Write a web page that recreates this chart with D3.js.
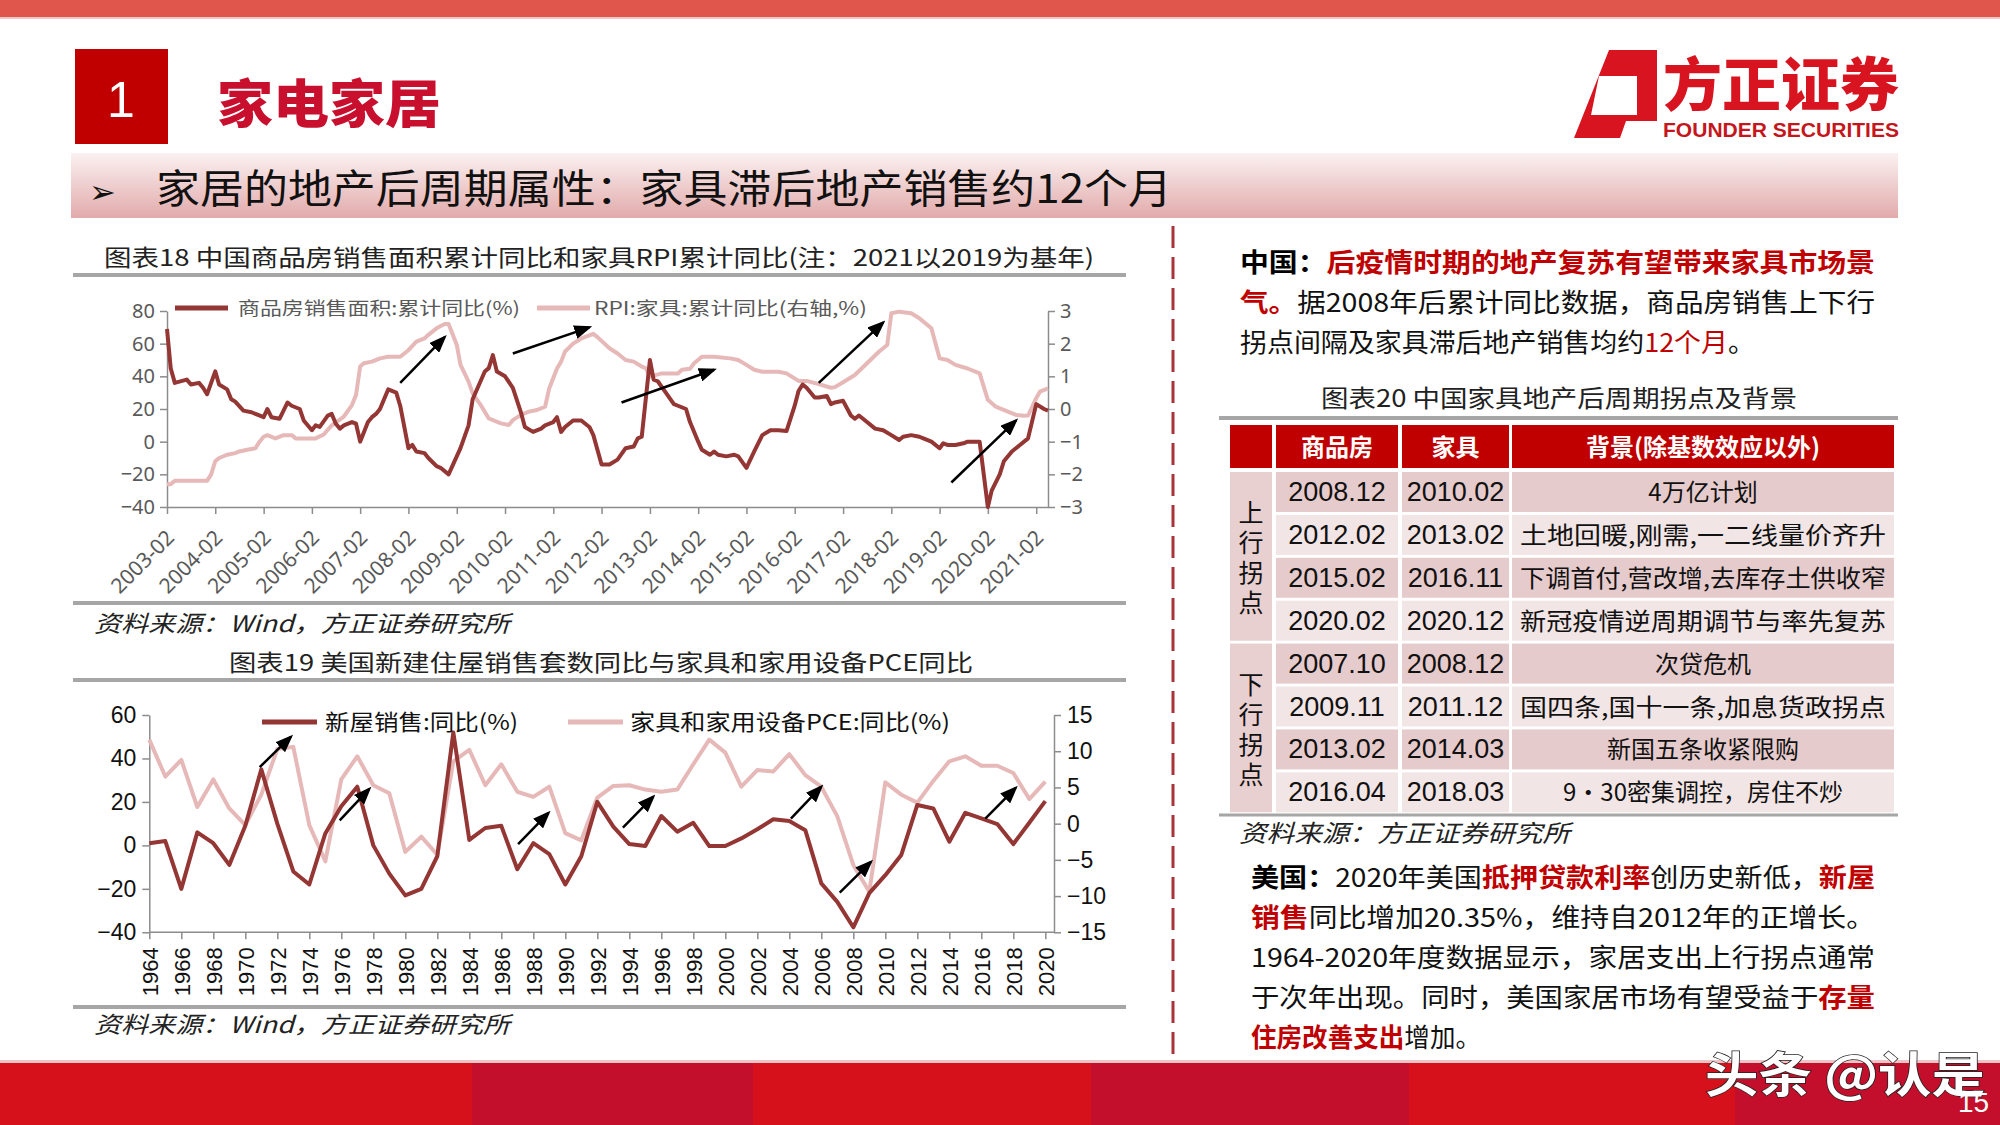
<!DOCTYPE html>
<meta charset="utf-8">
<style>
  body { margin: 0; background: #fff; }
  svg { display: block; }
  text { font-family: "Noto Sans CJK SC", "Noto Sans", sans-serif; }
  .ax1 text { fill: #595959; font-family: "Noto Sans", "Liberation Sans", sans-serif; }
  .ax1 line, .ax1 path { stroke: #8c8c8c; stroke-width: 1.5px; }
  .ax2 text { fill: #111; font-family: "Liberation Sans", Arial, sans-serif; }
  .ax2 line, .ax2 path { stroke: #8c8c8c; stroke-width: 1.5px; }
  .cell { font-family: "Liberation Sans Narrow", "Liberation Sans", sans-serif; }
</style>
<svg width="2000" height="1125"></svg>
<script src="https://d3js.org/d3.v7.min.js"></script>
<script>

    // ---- chart 18: China, monthly cumulative yoy ----
    var cnSalesDates = ["2003-02","2003-03","2003-04","2003-07","2003-08","2003-10","2003-11","2003-12",
        "2004-02","2004-03","2004-05","2004-06","2004-07","2004-09","2004-11","2004-12",
        "2005-02","2005-03","2005-04","2005-06","2005-08","2005-09","2005-11","2005-12",
        "2006-02","2006-03","2006-04","2006-06","2006-07","2006-08","2006-09","2006-10","2006-12","2007-01",
        "2007-02","2007-04","2007-05","2007-06","2007-07","2007-08","2007-09","2007-11","2007-12",
        "2008-02","2008-03","2008-04","2008-06","2008-07","2008-09","2008-10","2008-12",
        "2009-03","2009-05","2009-06","2009-09","2009-10","2009-11","2009-12",
        "2010-02","2010-04","2010-06","2010-07","2010-09","2010-11","2010-12",
        "2011-02","2011-03","2011-04","2011-05","2011-07","2011-09","2011-10","2011-11","2011-12",
        "2012-02","2012-04","2012-06","2012-08","2012-10","2012-11","2012-12",
        "2013-02","2013-03","2013-04","2013-06","2013-08","2013-09","2013-11","2013-12",
        "2014-02","2014-03","2014-05","2014-06","2014-07","2014-09","2014-11","2014-12",
        "2015-02","2015-04","2015-06","2015-08","2015-10","2015-12",
        "2016-02","2016-03","2016-04","2016-05","2016-07","2016-08","2016-10","2016-11","2016-12",
        "2017-02","2017-04","2017-05","2017-06","2017-08","2017-10","2017-12",
        "2018-02","2018-04","2018-05","2018-07","2018-09","2018-10","2018-12",
        "2019-02","2019-03","2019-04","2019-06","2019-08","2019-09","2019-11","2019-12",
        "2020-02","2020-03","2020-05","2020-06","2020-08","2020-10","2020-12",
        "2021-02","2021-04","2021-05"];
    var cnSalesArea = [69,45,36,38,35,36,33,29,
        43,35,32,26,24.5,19,18,17,
        15,20,15,14,24,22,20,13,
        7,10,9,16,17,11,8,10,12,11,
        0,12,15,17,20,26,32,30,22,
        -4,-2,-6,-7,-10,-15,-16,-20,
        -4,10,26,43,45,53,43,
        40,33,18,9,6,8,10,
        12,15,6,9,13,13,11,9,4,
        -14,-14,-11,-4,-3,2,3,
        50,38,37,30,23,22,20,12,
        0,-5,-8,-6,-8,-9,-8,-9,
        -16,-6,4,7,7,6.5,
        22,31,35,33,27,27,28,23,24,
        25,16,14,16,12,8,7,
        4,1,3,4,3,2,0,
        -4,-1,-2,-2,-1,0,0,0,
        -40,-30,-20,-12,-6,-2,2,
        23,20,19];

    var rpiDates = ["2003-02","2003-03","2003-04","2003-12","2004-01","2004-02","2004-03","2004-05","2004-07","2004-08","2004-10","2004-12",
        "2005-01","2005-02","2005-03","2005-05","2005-07","2005-09","2005-10","2006-03","2006-05","2006-07","2006-10","2006-12",
        "2007-01","2007-02","2007-03","2007-05","2007-07","2007-09","2007-12",
        "2008-02","2008-04","2008-06","2008-07","2008-09","2008-11","2008-12",
        "2009-02","2009-03","2009-05","2009-06","2009-08","2009-10","2009-11",
        "2010-01","2010-03","2010-04","2010-06","2010-08","2010-10","2010-12",
        "2011-01","2011-03","2011-04","2011-05","2011-07","2011-09","2011-12",
        "2012-01","2012-04","2012-06","2012-08","2012-10","2012-12",
        "2013-01","2013-02","2013-03","2013-05","2013-09","2013-10","2013-12",
        "2014-01","2014-03","2014-06","2014-10","2014-12",
        "2015-02","2015-04","2015-06","2015-10","2015-12",
        "2016-03","2016-05","2016-08","2016-11","2016-12",
        "2017-02","2017-05","2017-08","2017-11",
        "2018-01","2018-02","2018-04","2018-07","2018-09","2018-12",
        "2019-02","2019-04","2019-06","2019-09","2019-12",
        "2020-02","2020-04","2020-07","2020-09","2020-11","2020-12",
        "2021-02","2021-03","2021-05"];
    var rpiFurniture = [-2.3,-2.3,-2.2,-2.2,-2.0,-1.6,-1.5,-1.4,-1.35,-1.3,-1.25,-1.2,
        -1.0,-0.85,-0.8,-0.9,-0.8,-0.8,-0.9,-0.9,-0.78,-0.5,-0.23,0.12,
        0.43,1.3,1.4,1.45,1.55,1.6,1.6,
        1.8,2.06,2.16,2.27,2.47,2.6,2.6,
        1.96,1.35,0.84,0.48,0.12,-0.29,-0.34,
        -0.44,-0.49,-0.34,-0.18,-0.08,-0.03,0.07,
        0.63,1.24,1.45,1.76,2.0,2.16,2.3,
        2.2,1.86,1.7,1.5,1.45,1.3,
        1.25,0.99,1.02,1.09,1.09,1.2,1.23,
        1.4,1.6,1.6,1.55,1.5,
        1.35,1.2,1.14,1.14,1.09,
        0.86,0.86,0.76,0.65,0.67,
        0.82,1.04,1.4,1.76,
        1.96,2.93,2.98,2.93,2.78,2.47,
        1.55,1.5,1.35,1.24,1.09,
        0.28,0.07,-0.08,-0.18,-0.21,-0.2,
        0.33,0.53,0.63];

    var cnMonthTicks = ["2003-02","2004-02","2005-02","2006-02","2007-02","2008-02","2009-02","2010-02","2011-02",
        "2012-02","2013-02","2014-02","2015-02","2016-02","2017-02","2018-02","2019-02","2020-02","2021-02"];
    var cnLeftTicks = [-40, -20, 0, 20, 40, 60, 80];
    var cnRightTicks = [-3, -2, -1, 0, 1, 2, 3];
    // arrow annotations: [start month, left-axis value, end month, left-axis value]
    var cnArrows = [["2007-12", 36, "2008-11", 64], ["2010-04", 54, "2011-11", 70], ["2012-07", 24, "2014-06", 44],
        ["2016-08", 36, "2017-12", 73], ["2019-05", -25, "2020-09", 13]];

    // ---- chart 19: US, yearly yoy ----
    var usYears = [1964,1965,1966,1967,1968,1969,1970,1971,1972,1973,1974,1975,1976,1977,1978,1979,1980,1981,1982,1983,
        1984,1985,1986,1987,1988,1989,1990,1991,1992,1993,1994,1995,1996,1997,1998,1999,2000,2001,2002,2003,
        2004,2005,2006,2007,2008,2009,2010,2011,2012,2013,2014,2015,2016,2017,2018,2019,2020];
    var usNewHomeSales = [1,2,-20,6,1,-9,9,35,10,-12,-18,5.5,18,27,0,-13,-23,-20,-5,52,
        2.5,8,9,-11,1,-4,-18,-5,20,8.6,0.6,-0.3,13.5,6.3,10.4,-0.3,-0.3,3.2,7.4,12,
        11.2,7,-17.5,-26,-37.7,-22,-13.7,-4.4,18.6,17,1.7,15,12.4,9.8,0.6,10.4,20.35];
    var usFurniturePce = [11.6,6.5,8.8,2.3,6.1,2.1,-0.2,4.0,10.3,10.6,-0.2,-5.2,6.1,9.3,5.3,4.2,-3.9,-1.8,-4.3,8.6,
        10.2,5.3,8.2,4.4,3.7,5.1,-1.3,-2.3,3.6,5.2,5.3,4.7,4.4,4.7,8.2,11.6,9.8,5.1,7.4,7.2,
        9.6,6.7,5.1,1.0,-5.7,-9.4,5.7,4.0,2.9,5.9,8.6,9.3,8.0,8.0,7.0,3.4,5.8];
    var usLeftTicks = [-40, -20, 0, 20, 40, 60];
    var usRightTicks = [-15, -10, -5, 0, 5, 10, 15];
    var usArrows = [[1970.9, 36, 1972.85, 50], [1975.9, 11.5, 1977.75, 26], [1987.05, 0.6, 1988.95, 15],
        [1993.6, 8.2, 1995.5, 22.4], [2004.1, 12.3, 2006.0, 27], [2007.15, -21.7, 2009.1, -7.6], [2016.25, 12.3, 2018.15, 26.5]];

    // ---- chart 20: table ----
    var tableHead = ["商品房", "家具", "背景(除基数效应以外)"];
    var turnGroups = ["上行拐点", "下行拐点"];
    var housingTurn = ["2008.12", "2012.02", "2015.02", "2020.02", "2007.10", "2009.11", "2013.02", "2016.04"];
    var furnitureTurn = ["2010.02", "2013.02", "2016.11", "2020.12", "2008.12", "2011.12", "2014.03", "2018.03"];
    var turnBackground = ["4万亿计划", "土地回暖,刚需,一二线量价齐升", "下调首付,营改增,去库存土供收窄", "新冠疫情逆周期调节与率先复苏",
        "次贷危机", "国四条,国十一条,加息货政拐点", "新国五条收紧限购", "9·30密集调控，房住不炒"];

    // ---- text blocks: [text, kind] ----
    var cnNote = [
        [["中国：", "b"], ["后疫情时期的地产复苏有望带来家具市场景", "rb"]],
        [["气。", "rb"], ["据2008年后累计同比数据，商品房销售上下行", "n"]],
        [["拐点间隔及家具滞后地产销售均约", "n"], ["12个月", "r"], ["。", "n"]]
    ];
    var usNote = [
        [["美国：", "b"], ["2020年美国", "n"], ["抵押贷款利率", "rb"], ["创历史新低，", "n"], ["新屋", "rb"]],
        [["销售", "rb"], ["同比增加20.35%，维持自2012年的正增长。", "n"]],
        [["1964-2020年度数据显示，家居支出上行拐点通常", "n"]],
        [["于次年出现。同时，美国家居市场有望受益于", "n"], ["存量", "rb"]],
        [["住房改善支出", "rb"], ["增加。", "n"]]
    ];

    var darkRed = "#943634", pink = "#E6B9B8", red = "#C00000", grey = "#A6A6A6";
    var kindStyle = {
        b: {fill: "#000", weight: 700}, rb: {fill: red, weight: 700},
        n: {fill: "#111", weight: 400}, r: {fill: red, weight: 400}
    };

    var svg = d3.select("svg");
    var parseMonth = d3.timeParse("%Y-%m");
    var defs = svg.append("defs");

    defs.append("marker").attr("id", "head")
        .attr("viewBox", "0 0 18 14").attr("refX", 15).attr("refY", 7)
        .attr("markerWidth", 18).attr("markerHeight", 14)
        .attr("markerUnits", "userSpaceOnUse").attr("orient", "auto")
        .append("path").attr("d", "M0,0L18,7L0,14z").attr("fill", "#000");

    var band = defs.append("linearGradient").attr("id", "band").attr("x1", 0).attr("y1", 0).attr("x2", 0).attr("y2", 1);
    band.append("stop").attr("offset", "0%").attr("stop-color", "#fbf1f1");
    band.append("stop").attr("offset", "100%").attr("stop-color", "#e2aaab");

    function label(x, y, str, size, o) {
        o = o || {};
        var t = svg.append("text").attr("x", x).attr("y", y)
            .attr("font-size", size).attr("fill", o.fill || "#111")
            .text(str);
        if (o.weight) t.attr("font-weight", o.weight);
        if (o.anchor) t.attr("text-anchor", o.anchor);
        if (o.family) t.style("font-family", o.family);
        if (o.italic) t.style("font-style", "italic");
        if (o.width) t.attr("textLength", o.width).attr("lengthAdjust", "spacingAndGlyphs");
        return t;
    }

    function richLine(x, y, parts, size, width) {
        var t = svg.append("text").attr("x", x).attr("y", y).attr("font-size", size);
        parts.forEach(function (p) {
            var s = kindStyle[p[1]];
            t.append("tspan").text(p[0]).attr("fill", s.fill).attr("font-weight", s.weight);
        });
        if (width) t.attr("textLength", width).attr("lengthAdjust", "spacingAndGlyphs");
    }

    // ---------- page frame ----------
    svg.append("rect").attr("x", 0).attr("y", 0).attr("width", 2000).attr("height", 17).attr("fill", "#E0564D");
    svg.append("rect").attr("x", 0).attr("y", 17).attr("width", 2000).attr("height", 2).attr("fill", "#f3c7c4");

    svg.append("rect").attr("x", 75).attr("y", 49).attr("width", 93).attr("height", 95).attr("fill", red);
    label(121, 117, "1", 50, {fill: "#fff", anchor: "middle", family: "Liberation Sans, sans-serif"});
    label(217, 123, "家电家居", 52, {fill: "#C8102E", weight: 900, width: 224});

    svg.append("rect").attr("x", 71).attr("y", 153).attr("width", 1827).attr("height", 65).attr("fill", "url(#band)");
    label(89, 203, "➢", 32, {fill: "#111", family: "DejaVu Sans, sans-serif"});
    label(156, 203, "家居的地产后周期属性：家具滞后地产销售约12个月", 40, {fill: "#111", width: 1016});

    // logo
    svg.append("path")
        .attr("d", "M1609,50L1657,50L1657,121L1626,121L1620,138L1574,138Z M1599,76L1637,76L1637,115L1591,115Z")
        .attr("fill", "#D7141F").attr("fill-rule", "evenodd");
    label(1663, 106, "方正证券", 58, {fill: "#D7141F", weight: 900, width: 236});
    label(1663, 137, "FOUNDER SECURITIES", 20, {fill: "#C4161C", weight: 700, width: 236,
        family: "Liberation Sans Narrow, Liberation Sans, sans-serif"});

    // footer
    var footEdges = [0, 472, 753, 1091, 1409, 1735, 2000];
    var footFill = ["#D7111B", "#C30F2B"];
    svg.append("rect").attr("x", 0).attr("y", 1060).attr("width", 2000).attr("height", 3).attr("fill", "#efc4c6");
    footEdges.slice(0, -1).forEach(function (x0, i) {
        svg.append("rect").attr("x", x0).attr("y", 1063).attr("width", footEdges[i + 1] - x0)
            .attr("height", 62).attr("fill", footFill[i % 2]);
    });
    label(1705, 1092, "头条 @认是", 48, {fill: "#fff", weight: 700, width: 280})
        .attr("stroke", "#222").attr("stroke-width", 1.5).attr("paint-order", "stroke");
    label(1958, 1112, "15", 28, {fill: "#fff", family: "Liberation Sans Narrow, sans-serif"});

    // divider
    svg.append("line").attr("x1", 1173).attr("x2", 1173).attr("y1", 226).attr("y2", 1058)
        .attr("stroke", "#A8343A").attr("stroke-width", 3).attr("stroke-dasharray", "22,9");

    // ---------- chart 18 ----------
    label(104, 266, "图表18 中国商品房销售面积累计同比和家具RPI累计同比(注：2021以2019为基年)", 23, {fill: "#222", width: 990});
    svg.append("line").attr("x1", 73).attr("x2", 1126).attr("y1", 275).attr("y2", 275).attr("stroke", grey).attr("stroke-width", 4);

    var x1 = d3.scaleTime().domain([parseMonth("2003-02"), parseMonth("2021-05")]).range([167, 1048]);
    var y1 = d3.scaleLinear().domain([-40, 80]).range([507, 311]);
    var y1r = d3.scaleLinear().domain([-3, 3]).range([507, 311]);

    var g1 = svg.append("g");
    g1.append("g").attr("class", "ax1").attr("transform", "translate(167,0)")
        .call(d3.axisLeft(y1).tickValues(cnLeftTicks).tickSizeInner(7).tickSizeOuter(0).tickPadding(5))
        .selectAll("text").attr("font-size", 20);
    g1.append("g").attr("class", "ax1").attr("transform", "translate(1048,0)")
        .call(d3.axisRight(y1r).tickValues(cnRightTicks).tickSizeInner(7).tickSizeOuter(0).tickPadding(5)
            .tickFormat(d3.format("d")))
        .selectAll("text").attr("font-size", 20);
    g1.append("g").attr("class", "ax1").attr("transform", "translate(0,507)")
        .call(d3.axisBottom(x1).tickValues(cnMonthTicks.map(parseMonth)).tickSizeInner(7).tickSizeOuter(0)
            .tickFormat(d3.timeFormat("%Y-%m")))
        .selectAll("text").attr("font-size", 21)
        .attr("x", -17).attr("y", 21).attr("dy", "0.35em")
        .attr("transform", "rotate(-45)").style("text-anchor", "end");

    var rpiPts = rpiDates.map(function (d, i) { return [parseMonth(d), rpiFurniture[i]]; });
    var salesPts = cnSalesDates.map(function (d, i) { return [parseMonth(d), cnSalesArea[i]]; });

    g1.append("path").datum(rpiPts).attr("fill", "none").attr("stroke", pink).attr("stroke-width", 4)
        .attr("stroke-linejoin", "round")
        .attr("d", d3.line().x(function (d) { return x1(d[0]); }).y(function (d) { return y1r(d[1]); }));
    g1.append("path").datum(salesPts).attr("fill", "none").attr("stroke", darkRed).attr("stroke-width", 4)
        .attr("stroke-linejoin", "round")
        .attr("d", d3.line().x(function (d) { return x1(d[0]); }).y(function (d) { return y1(d[1]); }));

    g1.selectAll(".arr").data(cnArrows).enter().append("line").attr("class", "arr")
        .attr("x1", function (d) { return x1(parseMonth(d[0])); }).attr("y1", function (d) { return y1(d[1]); })
        .attr("x2", function (d) { return x1(parseMonth(d[2])); }).attr("y2", function (d) { return y1(d[3]); })
        .attr("stroke", "#000").attr("stroke-width", 2.5).attr("marker-end", "url(#head)");

    // legend 18
    g1.append("line").attr("x1", 175).attr("x2", 228).attr("y1", 308).attr("y2", 308).attr("stroke", darkRed).attr("stroke-width", 5);
    label(238, 315, "商品房销售面积:累计同比(%)", 18, {fill: "#595959", width: 282});
    g1.append("line").attr("x1", 537).attr("x2", 590).attr("y1", 308).attr("y2", 308).attr("stroke", pink).attr("stroke-width", 5);
    label(594, 315, "RPI:家具:累计同比(右轴,%)", 18, {fill: "#595959", width: 273});

    svg.append("line").attr("x1", 73).attr("x2", 1126).attr("y1", 603).attr("y2", 603).attr("stroke", grey).attr("stroke-width", 4);
    label(94, 632, "资料来源：Wind，方正证券研究所", 23, {fill: "#222", italic: true, width: 416});

    // ---------- chart 19 ----------
    label(229, 671, "图表19 美国新建住屋销售套数同比与家具和家用设备PCE同比", 23, {fill: "#222", width: 744});
    svg.append("line").attr("x1", 73).attr("x2", 1126).attr("y1", 680).attr("y2", 680).attr("stroke", grey).attr("stroke-width", 4);

    var x2 = d3.scaleLinear().domain([usYears[0], usYears[usYears.length - 1]]).range([149.3, 1045.3]);
    var y2 = d3.scaleLinear().domain([-40, 60]).range([932.3, 715]);
    var y2r = d3.scaleLinear().domain([-15, 15]).range([932.3, 715]);

    var g2 = svg.append("g");
    g2.append("g").attr("class", "ax2").attr("transform", "translate(149.3,0)")
        .call(d3.axisLeft(y2).tickValues(usLeftTicks).tickSizeInner(7).tickSizeOuter(0).tickPadding(6))
        .selectAll("text").attr("font-size", 23);
    g2.append("g").attr("class", "ax2").attr("transform", "translate(1054,0)")
        .call(d3.axisRight(y2r).tickValues(usRightTicks).tickSizeInner(7).tickSizeOuter(0).tickPadding(6))
        .selectAll("text").attr("font-size", 23);
    var xAx2 = g2.append("g").attr("class", "ax2").attr("transform", "translate(0,932.3)")
        .call(d3.axisBottom(x2).tickValues(usYears.filter(function (y) { return y % 2 === 0; }))
            .tickSizeInner(7).tickSizeOuter(0).tickFormat(d3.format("d")));
    xAx2.select(".domain").remove();
    xAx2.append("line").attr("x1", 149.3).attr("x2", 1054).attr("stroke", "#8c8c8c").attr("stroke-width", 1.5);
    xAx2.selectAll(".tick text").attr("font-size", 22)
        .attr("x", -15).attr("y", 0).attr("dy", "0.36em")
        .attr("transform", "rotate(-90)").style("text-anchor", "end");

    g2.append("path").datum(usYears).attr("fill", "none").attr("stroke", pink).attr("stroke-width", 4)
        .attr("stroke-linejoin", "round")
        .attr("d", d3.line().x(function (d) { return x2(d); }).y(function (d, i) { return y2r(usFurniturePce[i]); }));
    g2.append("path").datum(usYears).attr("fill", "none").attr("stroke", darkRed).attr("stroke-width", 4)
        .attr("stroke-linejoin", "round")
        .attr("d", d3.line().x(function (d) { return x2(d); }).y(function (d, i) { return y2(usNewHomeSales[i]); }));

    g2.selectAll(".arr").data(usArrows).enter().append("line").attr("class", "arr")
        .attr("x1", function (d) { return x2(d[0]); }).attr("y1", function (d) { return y2(d[1]); })
        .attr("x2", function (d) { return x2(d[2]); }).attr("y2", function (d) { return y2(d[3]); })
        .attr("stroke", "#000").attr("stroke-width", 2.5).attr("marker-end", "url(#head)");

    g2.append("line").attr("x1", 262).attr("x2", 317).attr("y1", 722).attr("y2", 722).attr("stroke", darkRed).attr("stroke-width", 5);
    label(325, 730, "新屋销售:同比(%)", 22, {fill: "#111", width: 193});
    g2.append("line").attr("x1", 568).attr("x2", 623).attr("y1", 722).attr("y2", 722).attr("stroke", pink).attr("stroke-width", 5);
    label(630, 730, "家具和家用设备PCE:同比(%)", 22, {fill: "#111", width: 320});

    svg.append("line").attr("x1", 73).attr("x2", 1126).attr("y1", 1007).attr("y2", 1007).attr("stroke", grey).attr("stroke-width", 4);
    label(94, 1033, "资料来源：Wind，方正证券研究所", 23, {fill: "#222", italic: true, width: 416});

    // ---------- right column ----------
    cnNote.forEach(function (line, i) {
        richLine(1240, 272 + i * 40, line, 26, i < 2 ? 635 : 515);
    });

    label(1321, 407, "图表20 中国家具地产后周期拐点及背景", 24, {fill: "#222", width: 476});
    svg.append("line").attr("x1", 1219).attr("x2", 1898).attr("y1", 418).attr("y2", 418).attr("stroke", grey).attr("stroke-width", 4);

    var colX = [1230, 1276, 1402, 1512], colW = [42, 122, 107, 382];
    var headTop = 425, headH = 43, rowTop = 472, rowPitch = 42.9, rowH = 40;
    colX.forEach(function (cx, j) {
        svg.append("rect").attr("x", cx).attr("y", headTop).attr("width", colW[j]).attr("height", headH).attr("fill", red);
        if (j > 0) label(cx + colW[j] / 2, headTop + 31, tableHead[j - 1], 24, {fill: "#fff", weight: 700, anchor: "middle"});
    });

    turnGroups.forEach(function (gname, k) {
        var top = rowTop + k * 4 * rowPitch;
        svg.append("rect").attr("x", colX[0]).attr("y", top).attr("width", colW[0])
            .attr("height", 3 * rowPitch + rowH).attr("fill", "#E8CFD0");
        svg.append("text").attr("x", colX[0] + colW[0] / 2).attr("y", top + 28)
            .attr("font-size", 25).attr("fill", "#111")
            .style("writing-mode", "vertical-rl").style("letter-spacing", "5px")
            .text(gname);
    });

    housingTurn.forEach(function (h, i) {
        var top = rowTop + i * rowPitch;
        var fill = (i % 4) % 2 === 0 ? "#E6CBCC" : "#F2E5E5";
        var cells = [h, furnitureTurn[i], turnBackground[i]];
        [1, 2, 3].forEach(function (j, c) {
            svg.append("rect").attr("x", colX[j]).attr("y", top).attr("width", colW[j]).attr("height", rowH).attr("fill", fill);
            var t = label(colX[j] + colW[j] / 2, top + 29, cells[c], c < 2 ? 27 : 24, {fill: "#111", anchor: "middle"});
            if (c < 2) t.attr("class", "cell");
            else if (cells[c].length > 13) t.attr("textLength", 366).attr("lengthAdjust", "spacingAndGlyphs");
        });
    });
    svg.append("line").attr("x1", 1219).attr("x2", 1898).attr("y1", 815).attr("y2", 815).attr("stroke", grey).attr("stroke-width", 3);
    label(1239, 842, "资料来源：方正证券研究所", 24, {fill: "#222", italic: true, width: 331});

    usNote.forEach(function (line, i) {
        richLine(1251, 887 + i * 40, line, 26, i < 4 ? 624 : 230);
    });

</script>
